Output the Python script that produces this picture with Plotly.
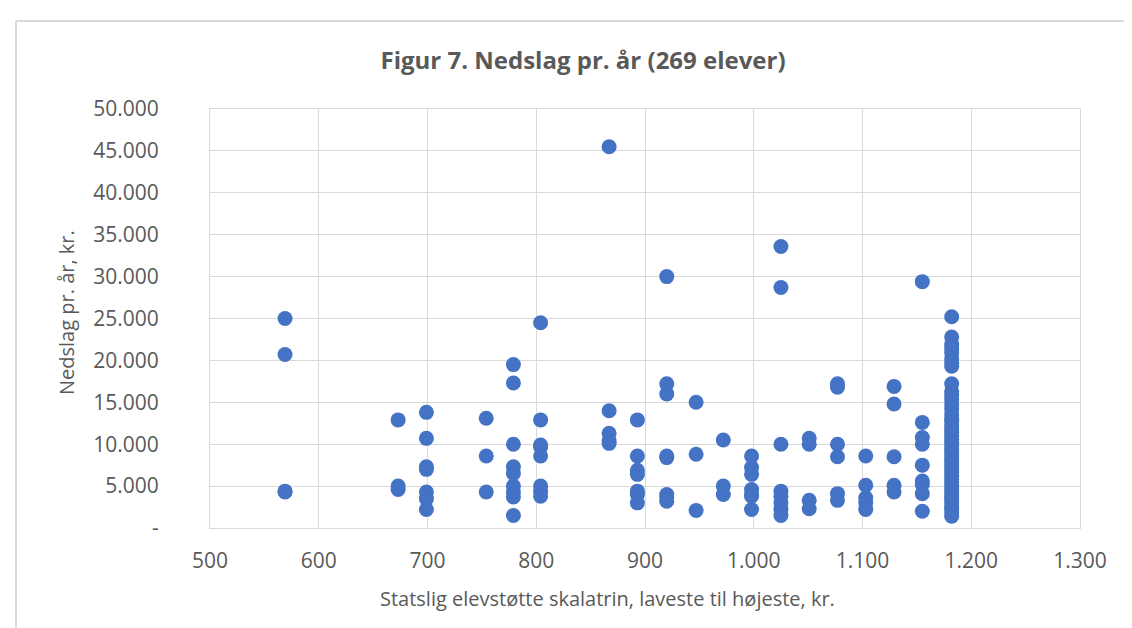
import plotly.graph_objects as go

# Skalatrin (kr.) pr. søjle og nedslag pr. år (kr.) for eleverne på hvert trin
skalatrin = [569, 673, 699, 754, 779, 804, 867, 893, 920, 947, 972, 998,
             1025, 1051, 1077, 1103, 1129, 1155, 1182]

nedslag = [
    [25000, 20700, 4300, 4400],
    [12900, 5000, 4600],
    [13800, 10700, 7300, 7000, 4300, 3500, 2200],
    [13100, 8600, 4300],
    [19500, 17300, 10000, 7300, 6500, 5000, 4300, 3700, 1500],
    [24500, 12900, 9900, 9700, 8600, 5000, 4400, 3800],
    [45500, 14000, 11300, 10400, 10100],
    [12900, 8600, 6900, 6400, 4400, 4000, 3000],
    [30000, 17200, 16000, 8600, 8400, 4000, 3600, 3200],
    [15000, 8800, 2100],
    [10500, 5000, 4000],
    [8600, 7200, 6400, 4600, 4000, 3800, 2200],
    [33600, 28700, 10000, 4400, 3800, 3000, 2200, 1500],
    [10700, 10000, 3300, 2300],
    [17200, 16800, 10000, 8500, 4100, 3300],
    [8600, 5100, 3600, 3000, 2200],
    [16900, 14800, 8500, 5100, 4300],
    [29400, 12600, 10800, 10000, 7500, 5600, 5200, 4100, 2000],
    [25200, 22800, 21900, 21400, 20900, 20200, 19700, 19300, 17200, 16300,
     15800, 15300, 14700, 14200, 13600, 13100, 12700, 12200, 11800, 11400,
     11000, 10600, 10200, 9800, 9400, 9000, 8600, 8200, 7800, 7400, 7000,
     6600, 6200, 5800, 5400, 5000, 4600, 4200, 3800, 3400, 3000, 2600,
     2200, 1800, 1400],
]

x_ticks = [500, 600, 700, 800, 900, 1000, 1100, 1200, 1300]
x_labels = ["500", "600", "700", "800", "900", "1.000", "1.100", "1.200", "1.300"]
y_ticks = [0, 5000, 10000, 15000, 20000, 25000, 30000, 35000, 40000, 45000, 50000]
y_labels = ["-", "5.000", "10.000", "15.000", "20.000", "25.000", "30.000",
            "35.000", "40.000", "45.000", "50.000"]

xs, ys = [], []
for trin, vals in zip(skalatrin, nedslag):
    for v in vals:
        xs.append(trin)
        ys.append(v)

FONT = "Open Sans"
GREY = "#595959"
GRID = "#D9D9D9"

fig = go.Figure(go.Scatter(
    x=xs, y=ys, mode="markers",
    marker=dict(size=15, color="#4472C4", line=dict(width=0)),
))

fig.update_layout(
    width=1132, height=628,
    margin=dict(l=202, r=60, t=101, b=108),
    paper_bgcolor="white", plot_bgcolor="white",
    showlegend=False,
    font=dict(family=FONT, color=GREY),
    title=dict(text="<b>Figur 7. Nedslag pr. år (269 elever)</b>",
               x=0.508, xanchor="center", y=0.917, yanchor="middle",
               font=dict(family=FONT, size=24, color=GREY)),
)

fig.update_xaxes(range=[500, 1300], tickvals=x_ticks, ticktext=x_labels,
                 showgrid=True, gridcolor=GRID, gridwidth=1,
                 showline=True, linecolor=GRID, linewidth=1, mirror=True,
                 zeroline=False, ticks="outside", ticklen=14,
                 tickcolor="rgba(0,0,0,0)", tickfont=dict(size=21, color=GREY))
fig.update_yaxes(range=[0, 50000], tickvals=y_ticks, ticktext=y_labels,
                 showgrid=True, gridcolor=GRID, gridwidth=1,
                 showline=True, linecolor=GRID, linewidth=1, mirror=True,
                 zeroline=False, ticks="outside", ticklen=46,
                 tickcolor="rgba(0,0,0,0)", tickfont=dict(size=21, color=GREY))

# aksetitler
fig.add_annotation(text="Statslig elevstøtte skalatrin, laveste til højeste, kr.",
                   xref="paper", yref="paper", x=(599 - 202) / 870, y=(520 - 590) / 419,
                   xanchor="center", yanchor="middle", showarrow=False,
                   font=dict(family=FONT, size=20, color=GREY))
fig.add_annotation(text="Nedslag pr. år, kr.", textangle=-90,
                   xref="paper", yref="paper", x=(58 - 202) / 870, y=(520 - 305) / 419,
                   xanchor="center", yanchor="middle", showarrow=False,
                   font=dict(family=FONT, size=20, color=GREY))

# diagramramme (top og venstre kant)
fig.add_shape(type="line", xref="paper", yref="paper",
              x0=(8 - 202) / 870, x1=1.2, y0=(520 - 13) / 419, y1=(520 - 13) / 419,
              line=dict(color="#D9D9D9", width=2))
fig.add_shape(type="line", xref="paper", yref="paper",
              x0=(8 - 202) / 870, x1=(8 - 202) / 870, y0=(520 - 13) / 419, y1=-0.5,
              line=dict(color="#D9D9D9", width=2))

fig.write_html("out.html")
